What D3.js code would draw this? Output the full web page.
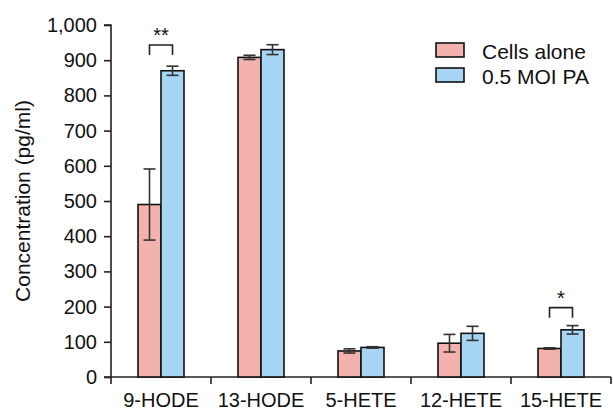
<!DOCTYPE html>
<html>
<head>
<meta charset="utf-8">
<script src="https://cdn.jsdelivr.net/npm/d3@7"></script>
<style>
  body { margin: 0; background: #fff; }
  svg text { font-family: "Liberation Sans", Arial, sans-serif; fill: #111; }
</style>
</head>
<body>
<svg id="chart" width="613" height="410"></svg>
<script>
// Data
const categories = ['9-HODE', '13-HODE', '5-HETE', '12-HETE', '15-HETE'];
const groups = ['Cells alone', '0.5 MOI PA'];
const cellsAlone = [490, 908, 74, 96, 81];
const cellsAloneErr = [101, 6, 6, 25, 2];
const moiPA = [870, 930, 84, 124, 134];
const moiPAErr = [13, 14, 2, 20, 12];
const yTicks = [0, 100, 200, 300, 400, 500, 600, 700, 800, 900, 1000];
// significance marks: category, label
const signif = [
  { cat: '9-HODE', label: '**', top: 943 },
  { cat: '15-HETE', label: '*', top: 197 }
];

const colors = ['#f4b2ae', '#a6d6f4'];

const svg = d3.select('#chart');
const mLeft = 111, mRight = 611, mTop = 25, mBottom = 377;

const y = d3.scaleLinear().domain([0, 1000]).range([mBottom, mTop]);
const x0 = d3.scaleBand().domain(categories).range([mLeft, mRight]).padding(0);
const barW = 23;
const x1 = d3.scaleBand().domain(groups)
  .range([x0.bandwidth() / 2 - barW, x0.bandwidth() / 2 + barW]).padding(0);

const rows = categories.map((c, i) => ({
  cat: c,
  vals: [
    { g: groups[0], v: cellsAlone[i], e: cellsAloneErr[i] },
    { g: groups[1], v: moiPA[i], e: moiPAErr[i] }
  ]
}));

// Y axis
const yAxis = svg.append('g')
  .attr('transform', `translate(${mLeft},0)`)
  .call(d3.axisLeft(y).tickValues(yTicks).tickSize(7).tickPadding(7)
    .tickFormat(d3.format(',')));
yAxis.selectAll('text').style('font-size', '20px');
yAxis.selectAll('line, path').attr('stroke', '#222').attr('stroke-width', 1.6);
yAxis.select('.domain').attr('d', `M-7,${mTop}H0V${mBottom}H-7`);

// X axis: line and boundary ticks
const xAxis = svg.append('g');
xAxis.append('line')
  .attr('x1', mLeft).attr('x2', mRight).attr('y1', mBottom).attr('y2', mBottom)
  .attr('stroke', '#222').attr('stroke-width', 1.6);
const bounds = categories.map(c => x0(c)).concat([x0(categories[categories.length - 1]) + x0.bandwidth()]);
xAxis.selectAll('.bt').data(bounds).enter().append('line')
  .attr('x1', d => d).attr('x2', d => d)
  .attr('y1', mBottom).attr('y2', mBottom + 7)
  .attr('stroke', '#222').attr('stroke-width', 1.6);
xAxis.selectAll('.lab').data(categories).enter().append('text')
  .attr('x', d => x0(d) + x0.bandwidth() / 2)
  .attr('y', mBottom + 30)
  .attr('text-anchor', 'middle')
  .style('font-size', '20px')
  .text(d => d);

// Bars
const gCat = svg.selectAll('.cat').data(rows).enter().append('g')
  .attr('transform', d => `translate(${x0(d.cat)},0)`);

gCat.selectAll('rect').data(d => d.vals).enter().append('rect')
  .attr('x', d => x1(d.g))
  .attr('width', x1.bandwidth())
  .attr('y', d => y(d.v))
  .attr('height', d => mBottom - y(d.v))
  .attr('fill', (d, i) => colors[i])
  .attr('stroke', '#111')
  .attr('stroke-width', 1.6);

// Error bars
const err = gCat.selectAll('.err').data(d => d.vals).enter().append('g')
  .attr('stroke', '#333').attr('stroke-width', 1.6);
err.append('line')
  .attr('x1', d => x1(d.g) + x1.bandwidth() / 2)
  .attr('x2', d => x1(d.g) + x1.bandwidth() / 2)
  .attr('y1', d => y(d.v + d.e)).attr('y2', d => y(d.v - d.e));
[1, -1].forEach(s => {
  err.append('line')
    .attr('x1', d => x1(d.g) + x1.bandwidth() / 2 - 6)
    .attr('x2', d => x1(d.g) + x1.bandwidth() / 2 + 6)
    .attr('y1', d => y(d.v + s * d.e)).attr('y2', d => y(d.v + s * d.e));
});

// Significance brackets
signif.forEach(s => {
  const xa = x0(s.cat) + x1(groups[0]) + x1.bandwidth() / 2;
  const xb = x0(s.cat) + x1(groups[1]) + x1.bandwidth() / 2;
  const yt = y(s.top);
  svg.append('path')
    .attr('d', `M${xa},${yt + 10}V${yt}H${xb}V${yt + 10}`)
    .attr('fill', 'none').attr('stroke', '#222').attr('stroke-width', 1.6);
  svg.append('text')
    .attr('x', (xa + xb) / 2).attr('y', yt - 3)
    .attr('text-anchor', 'middle')
    .style('font-size', '20px')
    .text(s.label);
});

// Y axis label
svg.append('text')
  .attr('transform', `translate(30,201) rotate(-90)`)
  .attr('text-anchor', 'middle')
  .style('font-size', '21px')
  .text('Concentration (pg/ml)');

// Legend
const legend = svg.append('g').attr('transform', 'translate(436,43)');
groups.forEach((g, i) => {
  const row = legend.append('g').attr('transform', `translate(0,${i * 25})`);
  row.append('rect').attr('width', 28).attr('height', 14)
    .attr('fill', colors[i]).attr('stroke', '#111').attr('stroke-width', 1.6);
  row.append('text').attr('x', 46).attr('y', 16)
    .style('font-size', '21px').text(g);
});
</script>
</body>
</html>
